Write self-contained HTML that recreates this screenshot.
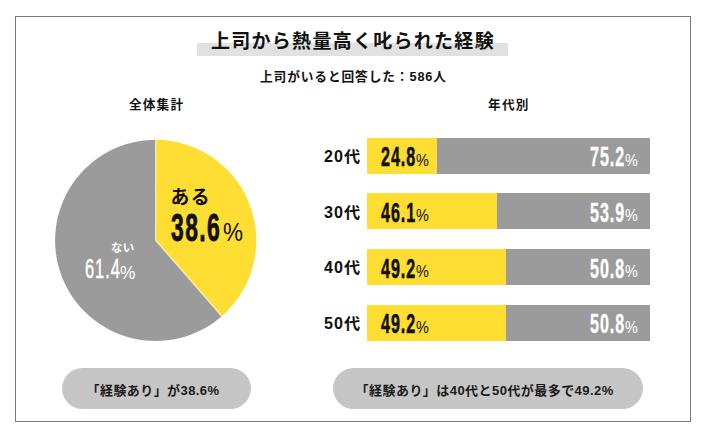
<!DOCTYPE html>
<html lang="ja"><head><meta charset="utf-8"><title>上司から熱量高く叱られた経験</title>
<style>
html,body{margin:0;padding:0;background:#fff;}
body{width:709px;height:437px;position:relative;overflow:hidden;font-family:"Liberation Sans", "Noto Sans CJK JP", sans-serif;color:#111;}
.frame{position:absolute;left:15px;top:15.5px;width:676px;height:406.5px;border:1.2px solid #7a7a7a;box-sizing:border-box;}
.band{position:absolute;left:197px;top:43px;width:311px;height:13px;background:#E1E1E1;}
.jp{position:absolute;font-weight:700;line-height:1;white-space:nowrap;transform-origin:0 0;}
.pie{position:absolute;left:0;top:0;}
.bar{position:absolute;background:#9B9B9B;}
.bar .y{position:absolute;left:0;top:0;bottom:0;background:#FFDE34;}
.n{position:absolute;font-family:"Liberation Sans", sans-serif;font-weight:700;line-height:1;transform-origin:0 0;white-space:nowrap;}
.p{position:absolute;font-family:"Liberation Sans", sans-serif;font-weight:400;line-height:1;transform-origin:0 0;white-space:nowrap;}
.pill{position:absolute;background:#C6C6C6;}
</style></head><body>
<div class="frame"></div>
<div class="band"></div>
<span class="jp" style="left:211px;top:31.6px;font-size:19px;letter-spacing:1.28px;">上司から熱量高く叱られた経験</span>
<span class="jp" style="left:260px;top:70.5px;font-size:12.7px;letter-spacing:0.9px;">上司がいると回答した：586人</span>
<span class="jp" style="left:129px;top:98.6px;font-size:12.6px;letter-spacing:1.2px;">全体集計</span>
<span class="jp" style="left:488px;top:98.6px;font-size:12.6px;letter-spacing:1.3px;">年代別</span>
<svg class="pie" width="709" height="437" viewBox="0 0 709 437"><path d="M155.7,240.4 L221.75,316.28 A100.6,100.6 0 1 1 155.7,139.8 Z" fill="#9B9B9B"/><path d="M155.7,240.4 L155.7,139.8 A100.6,100.6 0 0 1 221.75,316.28 Z" fill="#FFDE34"/><path d="M221.75,316.28 L155.7,240.4 L155.7,139.8" fill="none" stroke="#fff" stroke-opacity="0.55" stroke-width="1.4"/></svg>
<span class="jp" style="left:170.5px;top:188.7px;font-size:18.8px;letter-spacing:1.5px;">ある</span>
<span class="n" style="left:171px;top:207.8px;font-size:39.2px;letter-spacing:2.4px;transform:scaleX(0.585);-webkit-text-stroke:0.8px #111;">38.6</span>
<span class="p" style="left:223px;top:219px;font-size:26.5px;transform:scaleX(0.85);">%</span>
<span class="jp" style="left:111px;top:242.5px;font-size:11.5px;letter-spacing:0.3px;color:#fff;">ない</span>
<span class="n" style="left:85px;top:255.2px;font-size:27.5px;letter-spacing:1.6px;transform:scaleX(0.598);font-weight:400;color:#fff;-webkit-text-stroke:0.55px #fff;">61.4</span>
<span class="p" style="left:120px;top:263.5px;font-size:18.3px;transform:scaleX(0.95);color:#fff;">%</span>
<div class="bar" style="left:367px;top:137.5px;width:283px;height:36px"><div class="y" style="width:70.18px"></div></div><span class="jp" style="left:324px;top:147.8px;font-size:16.1px;letter-spacing:1.0px;font-weight:700;">20代</span><span class="n" style="left:381px;top:143.2px;font-size:27.6px;letter-spacing:1.6px;transform:scaleX(0.583);-webkit-text-stroke:0.6px #111;">24.8</span><span class="p" style="left:416.3px;top:152.6px;font-size:16px;transform:scaleX(0.9);">%</span><span class="n" style="left:590px;top:143.2px;font-size:27.6px;letter-spacing:1.6px;transform:scaleX(0.583);color:#fff;-webkit-text-stroke:0.35px #fff;">75.2</span><span class="p" style="left:625.3px;top:152.6px;font-size:16px;transform:scaleX(0.9);color:#fff;">%</span><div class="bar" style="left:367px;top:193.2px;width:283px;height:36px"><div class="y" style="width:130.46px"></div></div><span class="jp" style="left:324px;top:203.5px;font-size:16.1px;letter-spacing:1.0px;font-weight:700;">30代</span><span class="n" style="left:381px;top:198.9px;font-size:27.6px;letter-spacing:1.6px;transform:scaleX(0.583);-webkit-text-stroke:0.6px #111;">46.1</span><span class="p" style="left:416.3px;top:208.3px;font-size:16px;transform:scaleX(0.9);">%</span><span class="n" style="left:590px;top:198.9px;font-size:27.6px;letter-spacing:1.6px;transform:scaleX(0.583);color:#fff;-webkit-text-stroke:0.35px #fff;">53.9</span><span class="p" style="left:625.3px;top:208.3px;font-size:16px;transform:scaleX(0.9);color:#fff;">%</span><div class="bar" style="left:367px;top:248.8px;width:283px;height:36px"><div class="y" style="width:139.24px"></div></div><span class="jp" style="left:324px;top:259.1px;font-size:16.1px;letter-spacing:1.0px;font-weight:700;">40代</span><span class="n" style="left:381px;top:254.5px;font-size:27.6px;letter-spacing:1.6px;transform:scaleX(0.583);-webkit-text-stroke:0.6px #111;">49.2</span><span class="p" style="left:416.3px;top:263.9px;font-size:16px;transform:scaleX(0.9);">%</span><span class="n" style="left:590px;top:254.5px;font-size:27.6px;letter-spacing:1.6px;transform:scaleX(0.583);color:#fff;-webkit-text-stroke:0.35px #fff;">50.8</span><span class="p" style="left:625.3px;top:263.9px;font-size:16px;transform:scaleX(0.9);color:#fff;">%</span><div class="bar" style="left:367px;top:304.5px;width:283px;height:36px"><div class="y" style="width:139.24px"></div></div><span class="jp" style="left:324px;top:314.8px;font-size:16.1px;letter-spacing:1.0px;font-weight:700;">50代</span><span class="n" style="left:381px;top:310.2px;font-size:27.6px;letter-spacing:1.6px;transform:scaleX(0.583);-webkit-text-stroke:0.6px #111;">49.2</span><span class="p" style="left:416.3px;top:319.6px;font-size:16px;transform:scaleX(0.9);">%</span><span class="n" style="left:590px;top:310.2px;font-size:27.6px;letter-spacing:1.6px;transform:scaleX(0.583);color:#fff;-webkit-text-stroke:0.35px #fff;">50.8</span><span class="p" style="left:625.3px;top:319.6px;font-size:16px;transform:scaleX(0.9);color:#fff;">%</span>
<div class="pill" style="left:62px;top:368px;width:188.5px;height:41px;border-radius:20.5px"></div>
<span class="jp" style="left:86.6px;top:384px;font-size:13px;letter-spacing:0.42px;color:#1a1a1a;">「経験あり」が38.6%</span>
<div class="pill" style="left:333px;top:367.6px;width:310px;height:41px;border-radius:20.5px"></div>
<span class="jp" style="left:355.6px;top:384px;font-size:13px;letter-spacing:0.45px;color:#1a1a1a;">「経験あり」は40代と50代が最多で49.2%</span>
</body></html>
